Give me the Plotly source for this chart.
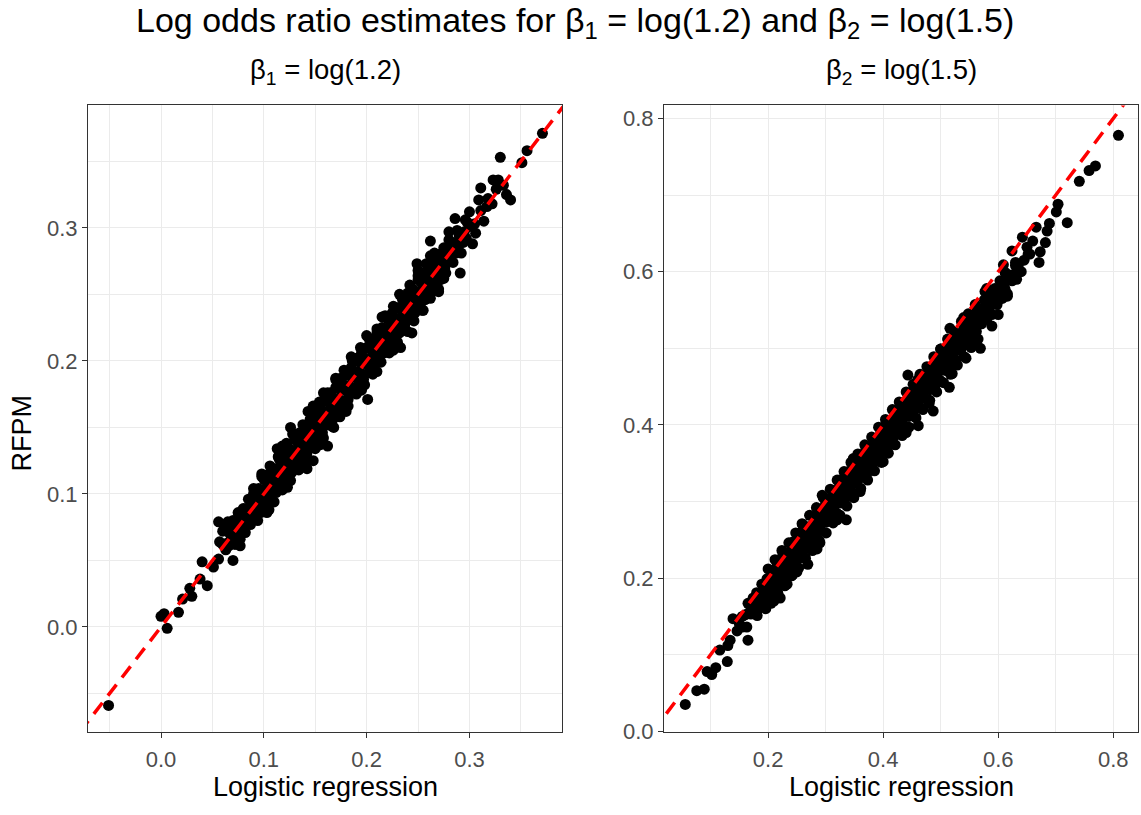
import plotly.graph_objects as go

# ---- beta1 = log(1.2): (logistic regression estimate, RFPM estimate) ----
b1_core_mid = [
    (0.060, 0.062), (0.064, 0.063), (0.067, 0.070), (0.071, 0.071), (0.074, 0.072), (0.078, 0.079),
    (0.081, 0.083), (0.085, 0.084), (0.088, 0.086), (0.092, 0.094), (0.095, 0.096), (0.099, 0.097),
    (0.102, 0.104), (0.106, 0.105), (0.109, 0.108), (0.113, 0.115), (0.116, 0.117), (0.120, 0.118),
    (0.123, 0.125), (0.127, 0.126), (0.130, 0.129), (0.134, 0.136), (0.137, 0.137), (0.141, 0.139),
    (0.144, 0.146), (0.148, 0.147), (0.151, 0.150), (0.155, 0.157), (0.158, 0.158), (0.162, 0.160),
    (0.165, 0.167), (0.169, 0.168), (0.172, 0.171), (0.176, 0.178), (0.179, 0.179), (0.183, 0.181),
    (0.186, 0.188), (0.190, 0.189), (0.193, 0.192), (0.197, 0.199), (0.200, 0.200), (0.204, 0.202),
    (0.207, 0.209), (0.211, 0.210), (0.214, 0.213), (0.218, 0.220), (0.221, 0.221), (0.225, 0.223),
    (0.228, 0.230), (0.232, 0.231), (0.235, 0.234), (0.239, 0.241), (0.242, 0.242), (0.246, 0.244),
    (0.249, 0.251), (0.253, 0.252), (0.256, 0.255), (0.260, 0.262), (0.263, 0.263), (0.267, 0.265),
    (0.270, 0.272), (0.274, 0.273), (0.277, 0.276), (0.281, 0.283), (0.285, 0.284), (0.290, 0.288),
    (0.295, 0.297), (0.300, 0.301), (0.305, 0.303), (0.311, 0.313), (0.317, 0.316),
]
b1_core_upper = [
    (0.070, 0.080), (0.075, 0.086), (0.080, 0.089), (0.085, 0.096), (0.090, 0.100), (0.095, 0.104),
    (0.100, 0.111), (0.105, 0.115), (0.110, 0.119), (0.115, 0.126), (0.120, 0.130), (0.125, 0.134),
    (0.130, 0.141), (0.135, 0.146), (0.140, 0.149), (0.145, 0.156), (0.150, 0.161), (0.155, 0.165),
    (0.160, 0.171), (0.165, 0.176), (0.170, 0.180), (0.175, 0.187), (0.180, 0.191), (0.185, 0.195),
    (0.190, 0.202), (0.195, 0.206), (0.200, 0.210), (0.205, 0.216), (0.210, 0.221), (0.215, 0.225),
    (0.220, 0.232), (0.225, 0.236), (0.230, 0.240), (0.235, 0.246), (0.240, 0.251), (0.245, 0.254),
    (0.250, 0.261), (0.255, 0.265), (0.260, 0.270), (0.265, 0.276), (0.270, 0.280), (0.275, 0.285),
    (0.280, 0.291), (0.288, 0.298), (0.296, 0.306),
]
b1_core_lower = [
    (0.072, 0.062), (0.077, 0.066), (0.082, 0.071), (0.087, 0.077), (0.092, 0.081), (0.097, 0.086),
    (0.102, 0.092), (0.107, 0.096), (0.112, 0.101), (0.117, 0.107), (0.122, 0.111), (0.127, 0.116),
    (0.132, 0.122), (0.137, 0.126), (0.142, 0.131), (0.147, 0.137), (0.152, 0.141), (0.157, 0.146),
    (0.162, 0.152), (0.167, 0.156), (0.172, 0.161), (0.177, 0.167), (0.182, 0.171), (0.187, 0.176),
    (0.192, 0.182), (0.197, 0.186), (0.202, 0.191), (0.207, 0.197), (0.212, 0.201), (0.217, 0.206),
    (0.222, 0.212), (0.227, 0.216), (0.232, 0.221), (0.237, 0.227), (0.242, 0.231), (0.247, 0.236),
    (0.252, 0.242), (0.257, 0.246), (0.262, 0.251), (0.267, 0.257), (0.272, 0.261), (0.277, 0.266),
    (0.284, 0.274), (0.292, 0.281),
]
b1_core_above = [
    (0.068, 0.073), (0.073, 0.079), (0.078, 0.082), (0.083, 0.089), (0.088, 0.092), (0.093, 0.099),
    (0.098, 0.102), (0.103, 0.109), (0.108, 0.112), (0.113, 0.119), (0.118, 0.122), (0.123, 0.129),
    (0.128, 0.132), (0.133, 0.139), (0.138, 0.142), (0.143, 0.149), (0.148, 0.152), (0.153, 0.159),
    (0.158, 0.162), (0.163, 0.169), (0.168, 0.172), (0.173, 0.179), (0.178, 0.182), (0.183, 0.189),
    (0.188, 0.192), (0.193, 0.199), (0.198, 0.202), (0.203, 0.209), (0.208, 0.212), (0.213, 0.219),
    (0.218, 0.222), (0.223, 0.229), (0.228, 0.232), (0.233, 0.239), (0.238, 0.242), (0.243, 0.249),
    (0.248, 0.252), (0.253, 0.259), (0.258, 0.262), (0.263, 0.269), (0.268, 0.272), (0.273, 0.279),
    (0.278, 0.282), (0.283, 0.289), (0.290, 0.294), (0.298, 0.304),
]
b1_core_below = [
    (0.066, 0.061), (0.071, 0.067), (0.076, 0.070), (0.081, 0.077), (0.086, 0.080), (0.091, 0.087),
    (0.096, 0.090), (0.101, 0.097), (0.106, 0.100), (0.111, 0.107), (0.116, 0.110), (0.121, 0.117),
    (0.126, 0.120), (0.131, 0.127), (0.136, 0.130), (0.141, 0.137), (0.146, 0.140), (0.151, 0.147),
    (0.156, 0.150), (0.161, 0.157), (0.166, 0.160), (0.171, 0.167), (0.176, 0.170), (0.181, 0.177),
    (0.186, 0.180), (0.191, 0.187), (0.196, 0.190), (0.201, 0.197), (0.206, 0.200), (0.211, 0.207),
    (0.216, 0.210), (0.221, 0.217), (0.226, 0.220), (0.231, 0.227), (0.236, 0.230), (0.241, 0.237),
    (0.246, 0.240), (0.251, 0.247), (0.256, 0.250), (0.261, 0.257), (0.266, 0.260), (0.271, 0.267),
    (0.276, 0.270), (0.281, 0.277), (0.287, 0.281), (0.294, 0.289),
]
b1_edge_upper = [
    (0.090, 0.104), (0.098, 0.113), (0.106, 0.121), (0.114, 0.128), (0.122, 0.138), (0.130, 0.145),
    (0.138, 0.152), (0.146, 0.162), (0.154, 0.169), (0.162, 0.176), (0.170, 0.186), (0.178, 0.193),
    (0.186, 0.200), (0.194, 0.210), (0.202, 0.217), (0.210, 0.224), (0.218, 0.234), (0.226, 0.241),
    (0.234, 0.248), (0.242, 0.257), (0.250, 0.264), (0.258, 0.273), (0.266, 0.281),
]
b1_edge_lower = [
    (0.094, 0.080), (0.102, 0.087), (0.110, 0.094), (0.118, 0.103), (0.126, 0.110), (0.134, 0.118),
    (0.142, 0.127), (0.150, 0.134), (0.158, 0.142), (0.166, 0.151), (0.174, 0.158), (0.182, 0.166),
    (0.190, 0.175), (0.198, 0.182), (0.206, 0.190), (0.214, 0.199), (0.222, 0.206), (0.230, 0.214),
    (0.238, 0.223), (0.246, 0.230), (0.254, 0.238), (0.262, 0.247), (0.270, 0.254),
]
b1_spread = [
    (0.098, 0.115), (0.118, 0.136), (0.128, 0.145), (0.148, 0.166), (0.158, 0.176), (0.170, 0.187),
    (0.185, 0.203), (0.200, 0.219), (0.215, 0.233), (0.232, 0.250), (0.250, 0.268), (0.262, 0.279),
    (0.105, 0.088), (0.123, 0.105), (0.140, 0.122), (0.155, 0.137), (0.168, 0.150), (0.180, 0.162),
    (0.195, 0.178), (0.210, 0.192), (0.226, 0.208), (0.240, 0.222), (0.255, 0.238), (0.270, 0.252),
    (0.060, 0.072), (0.063, 0.058), (0.068, 0.065), (0.073, 0.069), (0.062, 0.077),
    (0.300, 0.312), (0.306, 0.296), (0.314, 0.305), (0.318, 0.322), (0.322, 0.318), (0.326, 0.329),
    (0.333, 0.332), (0.336, 0.325), (0.297, 0.292), (0.280, 0.297), (0.275, 0.262),
]
b1_tails = [
    (-0.051, -0.059), (0.000, 0.008), (0.003, 0.010), (0.006, -0.001), (0.017, 0.011), (0.021, 0.021),
    (0.028, 0.029), (0.030, 0.023), (0.038, 0.036), (0.045, 0.031), (0.040, 0.049), (0.051, 0.045),
    (0.056, 0.079), (0.065, 0.079), (0.057, 0.064), (0.070, 0.050), (0.056, 0.051), (0.077, 0.061),
    (0.077, 0.084), (0.090, 0.091), (0.103, 0.086), (0.113, 0.134), (0.126, 0.150), (0.148, 0.125),
    (0.142, 0.119), (0.162, 0.136), (0.201, 0.171), (0.143, 0.162), (0.340, 0.321), (0.328, 0.336),
    (0.323, 0.336), (0.311, 0.330), (0.309, 0.321), (0.286, 0.307), (0.303, 0.288), (0.262, 0.290),
    (0.249, 0.273), (0.291, 0.266), (0.233, 0.210), (0.244, 0.221), (0.371, 0.371), (0.356, 0.358),
    (0.351, 0.349), (0.330, 0.353),
]

# ---- beta2 = log(1.5): (logistic regression estimate, RFPM estimate) ----
b2_core_mid = [
    (0.160, 0.152), (0.166, 0.154), (0.173, 0.165), (0.179, 0.168), (0.186, 0.173), (0.192, 0.181),
    (0.199, 0.184), (0.205, 0.195), (0.212, 0.200), (0.218, 0.204), (0.225, 0.214), (0.231, 0.217),
    (0.238, 0.227), (0.244, 0.230), (0.251, 0.235), (0.257, 0.244), (0.264, 0.246), (0.270, 0.257),
    (0.277, 0.262), (0.283, 0.267), (0.290, 0.276), (0.296, 0.279), (0.303, 0.290), (0.309, 0.293),
    (0.316, 0.297), (0.322, 0.306), (0.329, 0.309), (0.335, 0.320), (0.342, 0.324), (0.348, 0.329),
    (0.355, 0.339), (0.361, 0.342), (0.368, 0.352), (0.374, 0.355), (0.381, 0.360), (0.387, 0.369),
    (0.394, 0.371), (0.400, 0.382), (0.407, 0.387), (0.413, 0.391), (0.420, 0.401), (0.426, 0.404),
    (0.433, 0.415), (0.439, 0.417), (0.446, 0.422), (0.452, 0.431), (0.459, 0.434), (0.465, 0.444),
    (0.472, 0.449), (0.478, 0.454), (0.485, 0.464), (0.491, 0.466), (0.498, 0.477), (0.504, 0.480),
    (0.511, 0.485), (0.517, 0.493), (0.524, 0.496), (0.530, 0.507), (0.537, 0.512), (0.543, 0.516),
    (0.550, 0.526), (0.556, 0.529), (0.563, 0.539), (0.569, 0.542), (0.576, 0.547), (0.582, 0.556),
    (0.589, 0.558), (0.595, 0.569), (0.602, 0.574), (0.610, 0.581), (0.618, 0.591), (0.626, 0.596),
    (0.635, 0.609), (0.645, 0.615), (0.655, 0.623),
]
b2_core_upper = [
    (0.180, 0.181), (0.189, 0.192), (0.198, 0.199), (0.207, 0.206), (0.216, 0.217), (0.225, 0.228),
    (0.234, 0.233), (0.243, 0.242), (0.252, 0.253), (0.261, 0.258), (0.270, 0.267), (0.279, 0.279),
    (0.288, 0.285), (0.297, 0.292), (0.306, 0.304), (0.315, 0.314), (0.324, 0.319), (0.333, 0.329),
    (0.342, 0.339), (0.351, 0.344), (0.360, 0.354), (0.369, 0.365), (0.378, 0.372), (0.387, 0.379),
    (0.396, 0.390), (0.405, 0.401), (0.414, 0.405), (0.423, 0.415), (0.432, 0.426), (0.441, 0.430),
    (0.450, 0.440), (0.459, 0.452), (0.468, 0.458), (0.477, 0.465), (0.486, 0.477), (0.495, 0.487),
    (0.504, 0.492), (0.513, 0.501), (0.522, 0.512), (0.531, 0.517), (0.540, 0.526), (0.549, 0.538),
    (0.558, 0.545), (0.567, 0.551), (0.576, 0.563), (0.585, 0.574), (0.594, 0.578), (0.603, 0.588),
    (0.612, 0.599),
]
b2_core_lower = [
    (0.184, 0.160), (0.193, 0.165), (0.202, 0.176), (0.211, 0.187), (0.220, 0.192), (0.229, 0.199),
    (0.238, 0.211), (0.247, 0.219), (0.256, 0.226), (0.265, 0.238), (0.274, 0.246), (0.283, 0.252),
    (0.292, 0.262), (0.301, 0.273), (0.310, 0.279), (0.319, 0.285), (0.328, 0.298), (0.337, 0.306),
    (0.346, 0.312), (0.355, 0.325), (0.364, 0.332), (0.373, 0.338), (0.382, 0.349), (0.391, 0.359),
    (0.400, 0.365), (0.409, 0.372), (0.418, 0.384), (0.427, 0.392), (0.436, 0.399), (0.445, 0.411),
    (0.454, 0.419), (0.463, 0.424), (0.472, 0.435), (0.481, 0.446), (0.490, 0.451), (0.499, 0.458),
    (0.508, 0.471), (0.517, 0.478), (0.526, 0.485), (0.535, 0.498), (0.544, 0.505), (0.553, 0.511),
    (0.562, 0.522), (0.571, 0.532), (0.580, 0.538), (0.589, 0.544), (0.598, 0.557), (0.607, 0.565),
    (0.616, 0.571),
]
b2_core_above = [
    (0.175, 0.171), (0.184, 0.180), (0.193, 0.190), (0.202, 0.197), (0.211, 0.208), (0.220, 0.214),
    (0.229, 0.225), (0.238, 0.232), (0.247, 0.241), (0.256, 0.251), (0.265, 0.258), (0.274, 0.267),
    (0.283, 0.275), (0.292, 0.286), (0.301, 0.292), (0.310, 0.303), (0.319, 0.310), (0.328, 0.320),
    (0.337, 0.328), (0.346, 0.336), (0.355, 0.346), (0.364, 0.353), (0.373, 0.362), (0.382, 0.372),
    (0.391, 0.379), (0.400, 0.389), (0.409, 0.396), (0.418, 0.406), (0.427, 0.413), (0.436, 0.424),
    (0.445, 0.430), (0.454, 0.441), (0.463, 0.447), (0.472, 0.458), (0.481, 0.465), (0.490, 0.474),
    (0.499, 0.483), (0.508, 0.491), (0.517, 0.500), (0.526, 0.509), (0.535, 0.517), (0.544, 0.527),
    (0.553, 0.534), (0.562, 0.543), (0.571, 0.552), (0.580, 0.560), (0.589, 0.569), (0.598, 0.577),
    (0.607, 0.587), (0.618, 0.596), (0.630, 0.608),
]
b2_core_below = [
    (0.170, 0.153), (0.179, 0.161), (0.188, 0.170), (0.197, 0.178), (0.206, 0.188), (0.215, 0.195),
    (0.224, 0.205), (0.233, 0.212), (0.242, 0.222), (0.251, 0.230), (0.260, 0.238), (0.269, 0.248),
    (0.278, 0.256), (0.287, 0.264), (0.296, 0.274), (0.305, 0.281), (0.314, 0.291), (0.323, 0.299),
    (0.332, 0.307), (0.341, 0.317), (0.350, 0.324), (0.359, 0.334), (0.368, 0.342), (0.377, 0.350),
    (0.386, 0.360), (0.395, 0.367), (0.404, 0.377), (0.413, 0.385), (0.422, 0.394), (0.431, 0.403),
    (0.440, 0.411), (0.449, 0.420), (0.458, 0.429), (0.467, 0.436), (0.476, 0.447), (0.485, 0.454),
    (0.494, 0.463), (0.503, 0.472), (0.512, 0.480), (0.521, 0.489), (0.530, 0.498), (0.539, 0.506),
    (0.548, 0.515), (0.557, 0.523), (0.566, 0.533), (0.575, 0.541), (0.584, 0.550), (0.593, 0.558),
    (0.602, 0.567), (0.612, 0.577), (0.624, 0.588),
]
b2_edge_upper = [
    (0.200, 0.212), (0.212, 0.224), (0.224, 0.236), (0.236, 0.246), (0.248, 0.259), (0.260, 0.270),
    (0.272, 0.282), (0.284, 0.292), (0.296, 0.305), (0.308, 0.316), (0.320, 0.328), (0.332, 0.339),
    (0.344, 0.351), (0.356, 0.362), (0.368, 0.374), (0.380, 0.384), (0.392, 0.397), (0.404, 0.407),
    (0.416, 0.420), (0.428, 0.430), (0.440, 0.443), (0.452, 0.453), (0.464, 0.466), (0.476, 0.476),
    (0.488, 0.489), (0.500, 0.499), (0.512, 0.512), (0.524, 0.521), (0.536, 0.535), (0.548, 0.545),
    (0.560, 0.557),
]
b2_edge_lower = [
    (0.205, 0.167), (0.217, 0.180), (0.229, 0.190), (0.241, 0.203), (0.253, 0.213), (0.265, 0.226),
    (0.277, 0.236), (0.289, 0.249), (0.301, 0.259), (0.313, 0.272), (0.325, 0.282), (0.337, 0.294),
    (0.349, 0.305), (0.361, 0.317), (0.373, 0.328), (0.385, 0.340), (0.397, 0.351), (0.409, 0.363),
    (0.421, 0.374), (0.433, 0.386), (0.445, 0.397), (0.457, 0.409), (0.469, 0.420), (0.481, 0.432),
    (0.493, 0.443), (0.505, 0.455), (0.517, 0.466), (0.529, 0.478), (0.541, 0.489), (0.553, 0.501),
    (0.565, 0.512),
]
b2_spread = [
    (0.230, 0.232), (0.260, 0.262), (0.300, 0.298), (0.340, 0.339), (0.370, 0.371), (0.420, 0.419),
    (0.460, 0.459), (0.500, 0.499), (0.540, 0.540), (0.580, 0.578),
    (0.210, 0.170), (0.250, 0.208), (0.290, 0.246), (0.320, 0.276), (0.360, 0.313), (0.400, 0.352),
    (0.440, 0.390), (0.480, 0.428), (0.520, 0.467), (0.560, 0.505), (0.600, 0.544),
    (0.630, 0.612), (0.640, 0.600), (0.650, 0.632), (0.660, 0.640), (0.632, 0.590),
    (0.150, 0.140), (0.155, 0.150), (0.170, 0.158),
]
b2_tails = [
    (0.809, 0.778), (0.769, 0.738), (0.758, 0.732), (0.741, 0.718), (0.704, 0.688), (0.701, 0.678),
    (0.720, 0.664), (0.689, 0.663), (0.685, 0.653), (0.666, 0.658), (0.682, 0.638), (0.673, 0.626),
    (0.671, 0.612), (0.642, 0.645), (0.624, 0.627), (0.652, 0.623), (0.609, 0.609), (0.616, 0.568),
    (0.577, 0.574), (0.589, 0.529), (0.569, 0.500), (0.544, 0.487), (0.516, 0.526), (0.515, 0.449),
    (0.487, 0.418), (0.443, 0.465), (0.461, 0.399),
    (0.056, 0.035), (0.076, 0.053), (0.089, 0.055), (0.094, 0.078), (0.102, 0.074), (0.109, 0.083),
    (0.129, 0.091), (0.116, 0.106), (0.130, 0.112), (0.134, 0.119), (0.139, 0.147), (0.165, 0.119),
    (0.155, 0.136), (0.146, 0.131), (0.163, 0.136), (0.174, 0.174), (0.165, 0.167), (0.181, 0.151),
    (0.196, 0.160), (0.217, 0.218), (0.221, 0.174), (0.233, 0.192), (0.243, 0.205), (0.243, 0.247),
    (0.269, 0.218), (0.285, 0.238), (0.259, 0.271), (0.294, 0.308), (0.336, 0.276), (0.325, 0.328),
    (0.348, 0.356),
]

# axis limits per panel
b1_xrange, b1_yrange = [-0.071, 0.390], [-0.079, 0.392]
b2_xrange, b2_yrange = [0.019, 0.843], [-0.001, 0.817]

FONT = "Liberation Sans, Arial, Helvetica, sans-serif"
GRID = "#EBEBEB"
BORDER = "#333333"
TICKTXT = "#4D4D4D"


def unzip(*groups):
    xs, ys = [], []
    for g in groups:
        for a, b in g:
            xs.append(a)
            ys.append(b)
    return xs, ys


b1_lr, b1_rfpm = unzip(b1_core_mid, b1_core_upper, b1_core_lower, b1_core_above, b1_core_below,
                       b1_edge_upper, b1_edge_lower, b1_spread, b1_tails)
b2_lr, b2_rfpm = unzip(b2_core_mid, b2_core_upper, b2_core_lower, b2_core_above, b2_core_below,
                       b2_edge_upper, b2_edge_lower, b2_spread, b2_tails)

fig = go.Figure()

marker = dict(color="black", size=11, line=dict(width=0))
fig.add_trace(go.Scatter(x=b1_lr, y=b1_rfpm, mode="markers", marker=marker,
                         xaxis="x", yaxis="y", showlegend=False, hoverinfo="skip"))
fig.add_trace(go.Scatter(x=b2_lr, y=b2_rfpm, mode="markers", marker=marker,
                         xaxis="x2", yaxis="y2", showlegend=False, hoverinfo="skip"))

# identity line y = x across each panel (clipped by the axes)
ref_style = dict(color="#FF0000", width=3.5, dash="14px,9px")
lo1, hi1 = min(b1_xrange[0], b1_yrange[0]), max(b1_xrange[1], b1_yrange[1])
lo2, hi2 = min(b2_xrange[0], b2_yrange[0]), max(b2_xrange[1], b2_yrange[1])
fig.add_trace(go.Scatter(x=[lo1, hi1], y=[lo1, hi1], mode="lines", line=ref_style,
                         xaxis="x", yaxis="y", showlegend=False, hoverinfo="skip"))
fig.add_trace(go.Scatter(x=[lo2, hi2], y=[lo2, hi2], mode="lines", line=ref_style,
                         xaxis="x2", yaxis="y2", showlegend=False, hoverinfo="skip"))

W, H = 1141, 815
ydom = [1 - 743 / H, 1 - 107 / H]
x1dom = [88 / W, 562 / W]
x2dom = [664 / W, 1138 / W]


def axis(rng, dom, dtick, minor_dtick, anchor, standoff):
    return dict(
        range=rng, domain=dom, anchor=anchor,
        tick0=0, dtick=dtick, tickformat=".1f",
        showgrid=True, gridcolor=GRID, gridwidth=1.4,
        minor=dict(dtick=minor_dtick, tick0=0, showgrid=True, gridcolor=GRID,
                   gridwidth=0.7, ticks=""),
        zeroline=False,
        showline=True, linecolor=BORDER, linewidth=1.2, mirror=True,
        ticks="outside", ticklen=5, tickwidth=1.2, tickcolor=BORDER,
        ticklabelstandoff=standoff,
        tickfont=dict(family=FONT, size=22, color=TICKTXT),
    )


fig.update_layout(
    width=W, height=H,
    margin=dict(l=0, r=0, t=0, b=0),
    paper_bgcolor="white", plot_bgcolor="white",
    font=dict(family=FONT),
    xaxis=axis(b1_xrange, x1dom, 0.1, 0.05, "y", 2),
    yaxis=axis(b1_yrange, ydom, 0.1, 0.05, "x", 0),
    xaxis2=axis(b2_xrange, x2dom, 0.2, 0.1, "y2", 2),
    yaxis2=axis(b2_yrange, ydom, 0.2, 0.1, "x2", 0),
)


def label(text, px, py, size, angle=0):
    fig.add_annotation(text=text, x=px / W, y=1 - py / H, xref="paper", yref="paper",
                       xanchor="center", yanchor="middle", showarrow=False, textangle=angle,
                       font=dict(family=FONT, size=size, color="black"))


label("Log odds ratio estimates for β<sub>1</sub> = log(1.2) and β<sub>2</sub> = log(1.5)",
      575, 23, 34)
label("β<sub>1</sub> = log(1.2)", (88 + 562) / 2, 73, 27.5)
label("β<sub>2</sub> = log(1.5)", (664 + 1138) / 2, 73, 27.5)
label("Logistic regression", (88 + 562) / 2, 799, 27)
label("Logistic regression", (664 + 1138) / 2, 799, 27)
label("RFPM", 22, 440, 27, angle=-90)

fig.write_html("out.html")
